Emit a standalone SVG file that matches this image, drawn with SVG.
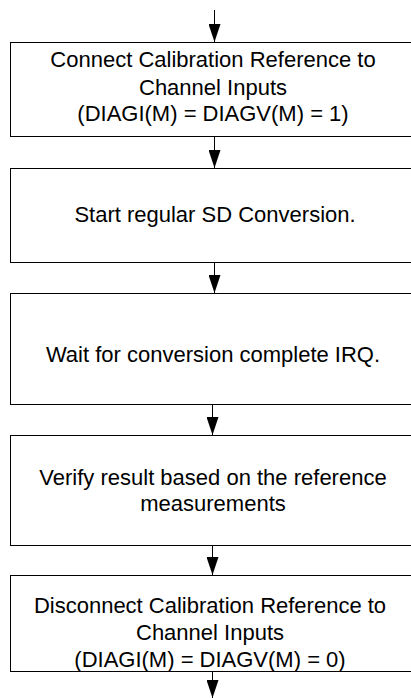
<svg xmlns="http://www.w3.org/2000/svg" width="411" height="698" viewBox="0 0 411 698">
<style>
.box{fill:#fff;stroke:#000;stroke-width:1}
.t{font-family:"Liberation Sans",Arial,sans-serif;font-size:22px;fill:#000;text-anchor:middle}
.c{stroke:#000;stroke-width:1;fill:none;marker-end:url(#ah)}
</style>
<defs>
<marker id="ah" markerWidth="18" markerHeight="12" refX="18" refY="6" viewBox="0 0 18 12" markerUnits="userSpaceOnUse" orient="auto">
<path d="M0,0 L18,6 L0,12 Z" fill="#000"/>
</marker>
</defs>
<rect width="411" height="698" fill="#fff"/>
<g id="connectors">
<line class="c" x1="214.5" y1="10" x2="214.5" y2="42"/>
<line class="c" x1="214.5" y1="136" x2="214.5" y2="168"/>
<line class="c" x1="214.5" y1="262" x2="214.5" y2="293"/>
<line class="c" x1="212.5" y1="404" x2="212.5" y2="435"/>
<line class="c" x1="212.5" y1="545" x2="212.5" y2="575"/>
<line class="c" x1="212.5" y1="671" x2="212.5" y2="698"/>
</g>
<g id="n1">
<rect class="box" x="10.5" y="42.5" width="410" height="94"/>
<text class="t" x="213" y="67">Connect Calibration Reference to</text>
<text class="t" x="213" y="94.5">Channel Inputs</text>
<text class="t" x="213" y="121">(DIAGI(M) = DIAGV(M) = 1)</text>
</g>
<g id="n2">
<rect class="box" x="10.5" y="168.5" width="410" height="94"/>
<text class="t" x="215" y="222">Start regular SD Conversion.</text>
</g>
<g id="n3">
<rect class="box" x="10.5" y="293.5" width="410" height="111"/>
<text class="t" x="213" y="362">Wait for conversion complete IRQ.</text>
</g>
<g id="n4">
<rect class="box" x="10.5" y="435.5" width="410" height="110"/>
<text class="t" x="213" y="485">Verify result based on the reference</text>
<text class="t" x="213" y="511">measurements</text>
</g>
<g id="n5">
<rect class="box" x="10.5" y="575.5" width="410" height="96"/>
<text class="t" x="210" y="612.5">Disconnect Calibration Reference to</text>
<text class="t" x="210" y="640">Channel Inputs</text>
<text class="t" x="210" y="667">(DIAGI(M) = DIAGV(M) = 0)</text>
</g>
</svg>
